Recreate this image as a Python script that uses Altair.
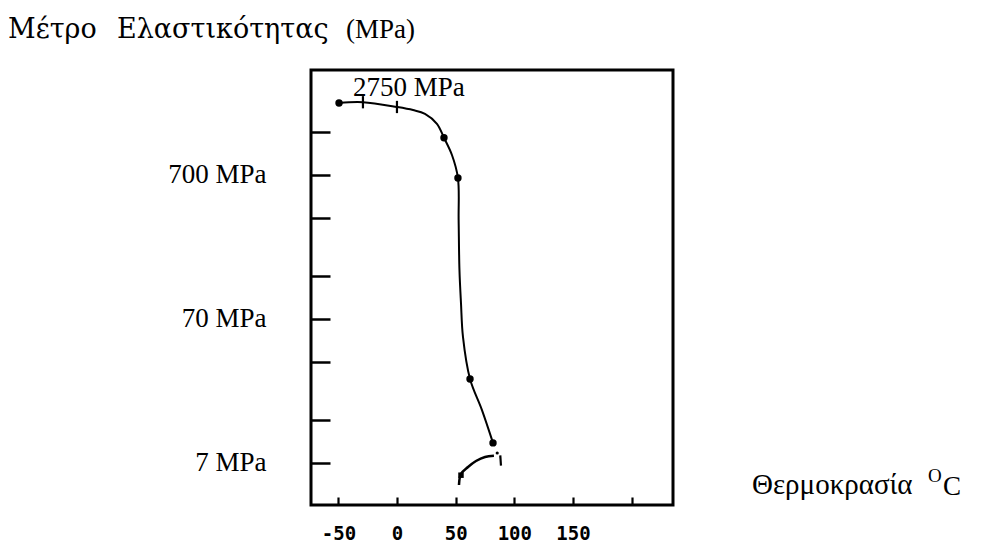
import altair as alt
import pandas as pd

# ---- texts ----
Y_TITLE_WORD1 = "Μέτρο"
Y_TITLE_WORD2 = "Ελαστικότητας"
Y_TITLE_UNIT = "(MPa)"
X_TITLE = "Θερμοκρασία"
X_SUP = "O"
X_UNIT = "C"
PEAK_LABEL = ["2750 MPa"]
PEAK_T = [-37.6]
PEAK_E = [2478]

# ---- axis ticks ----
Y_LABEL_VALUES = [7, 70, 700]
Y_TICK_VALUES = [7, 14, 35, 70, 140, 350, 700, 1400]
X_LABEL_VALUES = [-50, 0, 50, 100, 150]
X_TICK_VALUES = [-50, 0, 50, 100, 150, 200]
X_DOMAIN = [-73.4, 235.3]
Y_DOMAIN = [3.57, 3751]

# ---- main curve (temperature °C, modulus MPa) ----
curve_T = [-49.5, -29.1, -0.1, 13.6, 23.8, 34.0, 40.0, 46.8, 51.9, 52.5, 53.2, 54.5, 56.2, 62.2, 72.4, 81.8]
curve_E = [2214, 2240, 2076, 1977, 1863, 1587, 1269, 963, 667, 341, 153, 90.4, 52.5, 26.8, 16.3, 9.64]

# measured points
dot_T = [-49.5, 40.0, 51.9, 62.2, 81.8]
dot_E = [2214, 1269, 667, 26.8, 9.64]
tick_T = [-29.1, -0.1]
tick_E = [2240, 2076]

# small hook near 7 MPa
hook_T = [52.8, 54.5, 60.5, 67.3, 75.0, 82.6]
hook_E = [4.92, 5.87, 6.56, 7.22, 7.70, 7.84]
hook_mark_T = [54.5]
hook_mark_E = [5.75]
seg_T = [88.0, 88.6]
seg_E = [7.9, 6.7]
seg_dot_T = [85.4]
seg_dot_E = [8.2]

W, H = 362, 435
SERIF = "Liberation Serif"

xs = alt.Scale(domain=X_DOMAIN, nice=False, zero=False)
ys = alt.Scale(type="log", domain=Y_DOMAIN, nice=False)

x_axis = alt.Axis(orient="bottom", values=X_LABEL_VALUES, labelExpr="'' + datum.value",
                  ticks=False, domain=False, grid=False, title=None,
                  labelFont="DejaVu Sans Mono", labelFontWeight="bold", labelFontSize=19,
                  labelColor="black", labelPadding=19)
y_axis = alt.Axis(orient="left", values=Y_LABEL_VALUES, labelExpr="datum.value + ' MPa'",
                  ticks=False, domain=False, grid=False, title=None,
                  labelFont=SERIF, labelFontSize=27, labelColor="black",
                  labelPadding=45, labelAlign="right", labelBaseline="middle")

X = lambda: alt.X("T:Q", scale=xs, axis=x_axis)
Y = lambda: alt.Y("E:Q", scale=ys, axis=y_axis)

def df(t, e):
    return pd.DataFrame({"T": t, "E": e, "i": list(range(len(t)))})

line = alt.Chart(df(curve_T, curve_E)).mark_line(
    color="black", strokeWidth=2, interpolate="catmull-rom"
).encode(x=X(), y=Y(), order="i:Q")

dots = alt.Chart(df(dot_T, dot_E)).mark_point(
    shape="circle", filled=True, color="black", size=55, opacity=1
).encode(x=X(), y=Y())

ticks_pts = alt.Chart(df(tick_T, tick_E)).mark_point(
    shape="M0,-1L0,1", color="black", size=150, strokeWidth=2.2, opacity=1
).encode(x=X(), y=Y())

hook = alt.Chart(df(hook_T, hook_E)).mark_line(
    color="black", strokeWidth=2.5, interpolate="catmull-rom"
).encode(x=X(), y=Y(), order="i:Q")

hook_mark = alt.Chart(df(hook_mark_T, hook_mark_E)).mark_point(
    shape="square", filled=True, color="black", size=30, opacity=1
).encode(x=X(), y=Y())

seg = alt.Chart(df(seg_T, seg_E)).mark_line(
    color="black", strokeWidth=2.2
).encode(x=X(), y=Y(), order="i:Q")

seg_dot = alt.Chart(df(seg_dot_T, seg_dot_E)).mark_point(
    shape="circle", filled=True, color="black", size=10, opacity=1
).encode(x=X(), y=Y())

peak = alt.Chart(pd.DataFrame({"T": PEAK_T, "E": PEAK_E, "lab": PEAK_LABEL})).mark_text(
    font=SERIF, fontSize=27, align="left", baseline="alphabetic", color="black"
).encode(x=X(), y=Y(), text="lab:N")

main = alt.layer(line, dots, ticks_pts, hook, hook_mark, seg, seg_dot, peak)

# inward ticks drawn by a second pair of axes laid over the frame edges
tick_layer = alt.Chart(df(curve_T, curve_E)).mark_point(opacity=0).encode(
    x=alt.X("T:Q", scale=xs, axis=alt.Axis(orient="top", offset=-H, values=X_TICK_VALUES,
                                            labels=False, domain=False, grid=False, title=None,
                                            tickSize=8, tickWidth=2.2, tickColor="black")),
    y=alt.Y("E:Q", scale=ys, axis=alt.Axis(orient="right", offset=-W, values=Y_TICK_VALUES,
                                            labels=False, domain=False, grid=False, title=None,
                                            tickSize=19, tickWidth=2.5, tickColor="black")),
)

def label(txt, x, y, size, font=SERIF, align="left"):
    return alt.Chart(pd.DataFrame({"t": [txt]})).mark_text(
        font=font, fontSize=size, align=align, baseline="alphabetic", color="black"
    ).encode(text="t:N", x=alt.value(x), y=alt.value(y))

y_title_a = label(Y_TITLE_WORD1, -303, -32, 27, font="DejaVu Serif")
y_title_b = label(Y_TITLE_WORD2, -194, -32, 27, font="DejaVu Serif")
y_title_c = label(Y_TITLE_UNIT, 35, -32, 27)
x_title = label(X_TITLE, 441, 424, 29)
x_sup = label(X_SUP, 617, 412, 19)
x_unit = label(X_UNIT, 632, 425, 27)

chart = alt.layer(main, tick_layer, y_title_a, y_title_b, y_title_c,
                  x_title, x_sup, x_unit).resolve_scale(
    x="independent", y="independent"
).properties(
    width=W, height=H,
    autosize=alt.AutoSizeParams(type="none"),
    padding={"left": 311, "top": 70, "right": 322, "bottom": 46},
    background="white",
).configure_view(stroke="black", strokeWidth=3)

chart.save("out.html", embed_options={"renderer": "svg", "actions": False})
